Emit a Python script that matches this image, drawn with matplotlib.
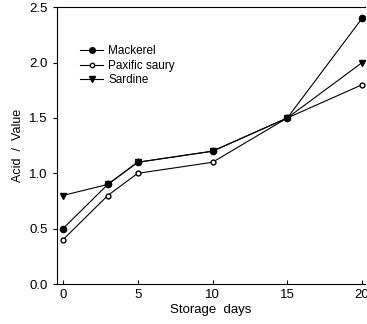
import matplotlib
matplotlib.use('Agg')
import matplotlib.pyplot as plt

days = [0, 3, 5, 10, 15, 20]
mackerel = [0.5, 0.9, 1.1, 1.2, 1.5, 2.4]
saury = [0.4, 0.8, 1.0, 1.1, 1.5, 1.8]
sardine = [0.8, 0.9, 1.1, 1.2, 1.5, 2.0]
xticks = [0, 5, 10, 15, 20]
yticks = [0.0, 0.5, 1.0, 1.5, 2.0, 2.5]

plt.rcParams['font.family'] = ['Liberation Sans', 'DejaVu Sans']

fig = plt.figure(figsize=(3.67, 3.24), dpi=100)
ax = fig.add_axes([0.155, 0.123, 0.84, 0.855])

ax.plot(days, mackerel, color='black', linewidth=0.8, marker='o', markersize=4.5,
        markerfacecolor='black', label='Mackerel')
ax.plot(days, saury, color='black', linewidth=0.8, marker='o', markersize=3.5,
        markerfacecolor='white', label='Paxific saury')
ax.plot(days, sardine, color='black', linewidth=0.8, marker='v', markersize=4.5,
        markerfacecolor='black', label='Sardine')

ax.set_xlim(-0.4, 20.2)
ax.set_ylim(0, 2.5)
ax.set_xticks(xticks)
ax.set_yticks(yticks)
ax.set_yticklabels(['%.1f' % v for v in yticks])
ax.tick_params(axis='x', direction='in', length=3, labelsize=9.5)
ax.tick_params(axis='y', direction='out', length=3, labelsize=9.5)
ax.spines['right'].set_visible(False)

ax.set_xlabel('Storage  days', fontsize=9.5, labelpad=2)
ax.set_ylabel('Acid  /  Value', fontsize=9)

ax.legend(loc='upper left', bbox_to_anchor=(0.04, 0.9), frameon=False, fontsize=8.5,
          handlelength=2.0, labelspacing=0.2, handletextpad=0.4, markerscale=0.9)

fig.savefig('out.png', dpi=100)
